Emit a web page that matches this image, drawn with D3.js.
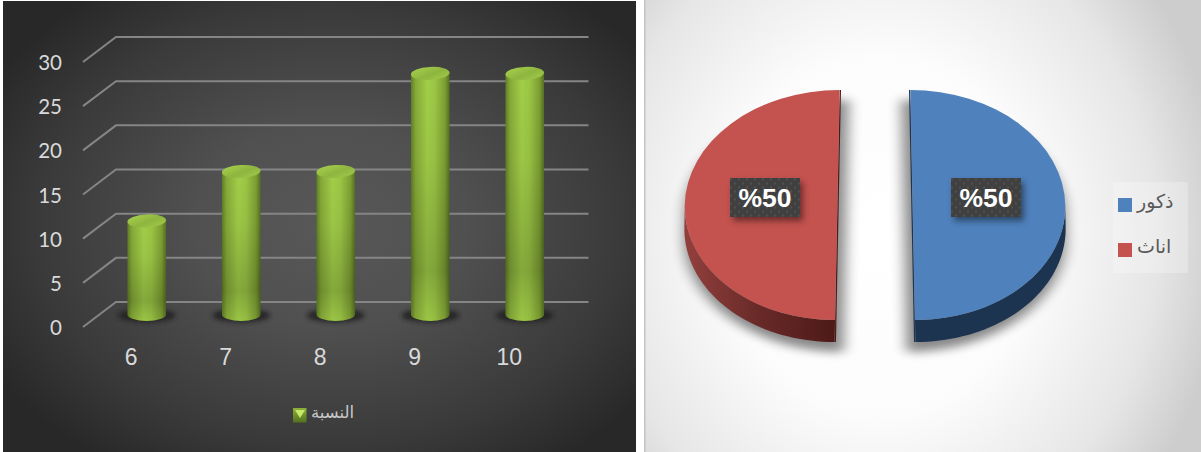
<!DOCTYPE html>
<html><head><meta charset="utf-8">
<script src="https://cdn.jsdelivr.net/npm/d3@7/dist/d3.min.js"></script>
<style>html,body{margin:0;padding:0;background:#fff;overflow:hidden}svg{display:block}</style>
</head><body><svg id="c" width="1201" height="452"></svg>
<script>
const gradeLabels = ["6","7","8","9","10"];
const gradeShares = [11.1,16.7,16.7,27.8,27.8];
const axisTicks = [0,5,10,15,20,25,30];
const barLegend = "النسبة";
const genderLabels = ["ذكور","اناث"];
const genderShares = [50,50];
const genderColors = ["#4f81bd","#c4524f"];
const genderSides = ["#1d3450","url(#redSide)"];

const svg = d3.select("#c");
const defs = svg.append("defs");
function radial(id,cx,cy,rx,ry,stops){
  const g = defs.append("radialGradient").attr("id",id).attr("gradientUnits","userSpaceOnUse")
    .attr("cx",0).attr("cy",0).attr("r",1)
    .attr("gradientTransform",`translate(${cx},${cy}) scale(${rx},${ry})`);
  stops.forEach(s=>g.append("stop").attr("offset",s[0]).attr("stop-color",s[1]));
}
function linear(id,x2,y2,stops){
  const g = defs.append("linearGradient").attr("id",id).attr("x1",0).attr("y1",0).attr("x2",x2).attr("y2",y2);
  stops.forEach(s=>g.append("stop").attr("offset",s[0]).attr("stop-color",s[1]).attr("stop-opacity",s[2]===undefined?1:s[2]));
}
radial("bgL",330,225,390,290,[[0,"#585858"],[.35,"#505050"],[.75,"#3a3a3a"],[1,"#282828"]]);
radial("bgR",880,235,345,400,[[0,"#ffffff"],[.45,"#fcfcfc"],[.8,"#e6e6e6"],[1,"#cdcdcd"]]);
linear("cyl",1,0,[[0,"#5f7f26"],[.12,"#86aa38"],[.42,"#a2ce48"],[.62,"#9cc645"],[.88,"#7d9f33"],[1,"#566f22"]]);
linear("cylShade",0,1,[[0,"#000",0],[.35,"#000",.04],[.8,"#000",.18],[1,"#000",.04]]);
linear("cap",1,1,[[0,"#a9d350"],[.55,"#8eb53e"],[1,"#a4cc4c"]]);
linear("redSide",1,0,[[0,"#93403d"],[.5,"#682a28"],[1,"#4d1a18"]]);
linear("swatch",0,1,[[0,"#8cb33a"],[1,"#53701f"]]);
defs.append("filter").attr("id","blur5").attr("x","-30%").attr("y","-30%").attr("width","160%").attr("height","160%")
  .append("feGaussianBlur").attr("stdDeviation",5);
defs.append("filter").attr("id","blur3").attr("x","-40%").attr("y","-100%").attr("width","180%").attr("height","300%")
  .append("feGaussianBlur").attr("stdDeviation",2.2);
const ds = defs.append("filter").attr("id","boxShadow").attr("x","-20%").attr("y","-30%").attr("width","140%").attr("height","170%");
ds.append("feDropShadow").attr("dx",3).attr("dy",4).attr("stdDeviation",3).attr("flood-color","#000").attr("flood-opacity",.45);
const pat = defs.append("pattern").attr("id","dots").attr("patternUnits","userSpaceOnUse").attr("width",8).attr("height",8);
pat.append("rect").attr("width",8).attr("height",8).attr("fill","#404040");
pat.append("circle").attr("cx",2).attr("cy",2).attr("r",.9).attr("fill","#565656");
pat.append("circle").attr("cx",6).attr("cy",6).attr("r",.9).attr("fill","#565656");

/* ---------- left panel ---------- */
svg.append("rect").attr("x",3).attr("y",1).attr("width",633).attr("height",451).attr("fill","url(#bgL)");
const y = d3.scaleLinear().domain([0,30]).range([327,62]);
const depthX = 33, depthY = 25;
const xFront = d3.scaleBand().domain(gradeLabels).range([83,555.5]);
const left = svg.append("g");

left.append("g").selectAll("path").data(axisTicks).join("path")
  .attr("fill","none").attr("stroke","#858585").attr("stroke-width",2)
  .attr("d",d=>d3.line()([[xFront.range()[0],y(d)],[xFront.range()[0]+depthX,y(d)-depthY],[xFront.range()[1]+depthX,y(d)-depthY]]));

left.append("g").selectAll("text").data(axisTicks).join("text")
  .attr("x",62).attr("y",d=>y(d)+8).attr("text-anchor","end")
  .attr("font-family","Lato,sans-serif").attr("font-size",20.5).attr("fill","#d9d9d9").text(d=>d);

left.append("g").selectAll("text").data(gradeLabels).join("text")
  .attr("x",d=>xFront(d)+xFront.bandwidth()/2+1).attr("y",364.5).attr("text-anchor","middle")
  .attr("font-family","'Liberation Sans',sans-serif").attr("font-size",23).attr("fill","#d9d9d9").text(d=>d);

const bars = gradeLabels.map((g,i)=>({g,v:gradeShares[i]}));
const barCx = d=>xFront(d.g)+xFront.bandwidth()/2+depthX/2;
const baseY = y(0)-depthY/2, capY = d=>y(d.v)-8, rx = 19.3, ryE = 6.5;
left.append("g").selectAll("ellipse").data(bars).join("ellipse")
  .attr("cx",d=>barCx(d)).attr("cy",baseY+1).attr("rx",rx+9.5).attr("ry",ryE+.5)
  .attr("fill","#222").attr("opacity",.85).attr("filter","url(#blur3)");
const bar = left.append("g").selectAll("g").data(bars).join("g");
const cylPath = d=>{
  const cx = barCx(d);
  return `M${cx-rx},${capY(d)+1}V${baseY}A${rx},${ryE} 0 0 0 ${cx+rx},${baseY}V${capY(d)-1}Z`;
};
bar.append("path").attr("d",cylPath).attr("fill","url(#cyl)");
bar.append("path").attr("d",cylPath).attr("fill","url(#cylShade)");
bar.append("ellipse").attr("cx",barCx).attr("cy",capY).attr("rx",rx).attr("ry",ryE).attr("fill","url(#cap)")
  .attr("transform",d=>`rotate(-3 ${barCx(d)} ${capY(d)})`);

const lg = left.append("g");
lg.append("rect").attr("x",293).attr("y",408).attr("width",13.5).attr("height",14.5).attr("fill","url(#swatch)");
lg.append("path").attr("d","M295,410H305L300,418Z").attr("fill","#c8e86a");
lg.append("text").attr("x",311).attr("y",418).attr("text-anchor","start")
  .attr("font-family","'DejaVu Sans',sans-serif").attr("font-size",16.5).attr("fill","#c8c8c8").text(barLegend);

/* ---------- right panel ---------- */
svg.append("rect").attr("x",644).attr("y",0).attr("width",557).attr("height",452).attr("fill","url(#bgR)");
svg.append("rect").attr("x",644).attr("y",0).attr("width",1.5).attr("height",452).attr("fill","#c4c4c4");

const R = 115, stretch = 152.5/115, skew = 0.02, depth = 22, explode = 37.7;
const pieCx = 875, pieCy = 205;
const pie = d3.pie().sort(null)(genderShares);
const arc = d3.arc().innerRadius(0).outerRadius(R);
const mid = s=>(s.startAngle+s.endAngle)/2;
const dir = s=>Math.sin(mid(s))>0?1:-1;
const place = (s,dx=0,dy=0,grow=1)=>`translate(${pieCx+dir(s)*explode+dx},${pieCy+dy}) matrix(${stretch*grow},0,${dir(s)*skew},1,0,0)`;
const sideLine = d3.line().x(p=>R*Math.sin(p[0])).y(p=>-R*Math.cos(p[0])+p[1]);
const sidePath = s=>{
  const a0 = Math.max(s.startAngle,Math.PI/2), a1 = Math.min(s.endAngle,Math.PI*1.5);
  const as = d3.range(0,41).map(i=>a0+(a1-a0)*i/40);
  return sideLine(as.map(a=>[a,0]).concat(as.slice().reverse().map(a=>[a,depth])))+"Z";
};
const outline = s=>{
  const as = d3.range(0,81).map(i=>s.startAngle+(s.endAngle-s.startAngle)*i/80);
  return sideLine(as.map(a=>[a,a>Math.PI/2&&a<Math.PI*1.5?depth:0]))+"Z";
};
const right = svg.append("g");
right.append("g").selectAll("path").data(pie).join("path")
  .attr("transform",s=>place(s,-dir(s)*9,10,1.06)).attr("d",outline)
  .attr("fill","#000").attr("opacity",.46).attr("filter","url(#blur5)");
const slice = right.append("g").selectAll("g").data(pie).join("g").attr("transform",s=>place(s));
slice.append("path").attr("d",sidePath).attr("fill",(s,i)=>genderSides[i]);
slice.append("path").attr("d",s=>d3.line()([[0,-R],[0,R+depth]])).attr("stroke",(s,i)=>i?"#4d1a18":"#1d3450").attr("stroke-width",1.2).attr("vector-effect","non-scaling-stroke")
  .attr("transform",s=>`translate(${-dir(s)*0.6},0)`);
slice.append("path").attr("d",arc).attr("fill",(s,i)=>genderColors[i]);

const lab = right.append("g").selectAll("g").data(pie).join("g")
  .attr("transform",s=>`translate(${dir(s)>0?986:765},197.5)`);
lab.append("rect").attr("x",-35).attr("y",-19.5).attr("width",70).attr("height",39)
  .attr("fill","url(#dots)").attr("filter","url(#boxShadow)");
lab.append("text").attr("text-anchor","middle").attr("y",9.5).attr("direction","ltr")
  .attr("font-family","'Liberation Sans',Arial,sans-serif").attr("font-weight","bold").attr("font-size",26.5)
  .attr("fill","#fff").style("unicode-bidi","bidi-override").text(s=>"%"+s.data);

const leg = right.append("g");
leg.append("rect").attr("x",1113).attr("y",182).attr("width",75).attr("height",91).attr("fill","#fff").attr("opacity",.25);
const legY = d3.scalePoint().domain(genderLabels).range([205,250]);
leg.selectAll("rect.s").data(genderLabels).join("rect").attr("class","s")
  .attr("x",1118).attr("y",d=>legY(d)-7).attr("width",14).attr("height",14)
  .attr("fill",(d,i)=>genderColors[i]);
leg.selectAll("text").data(genderLabels).join("text")
  .attr("x",1137).attr("y",d=>legY(d)+3).attr("text-anchor","start")
  .attr("font-family","'DejaVu Sans',sans-serif").attr("font-size",19).attr("fill","#595959").text(d=>d);
</script></body></html>
